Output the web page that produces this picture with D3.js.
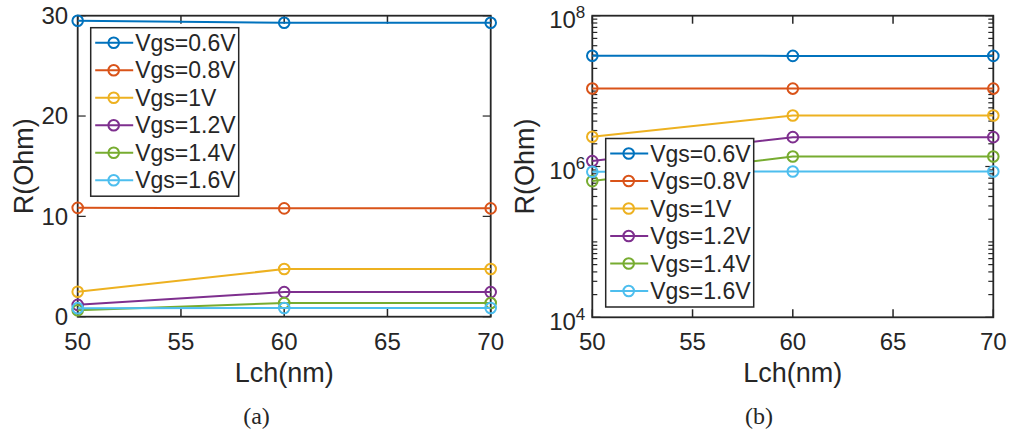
<!DOCTYPE html>
<html>
<head>
<meta charset="utf-8">
<script src="https://cdn.jsdelivr.net/npm/d3@7"></script>
<style>
  body { margin: 0; background: #fff; }
  text { font-family: "Liberation Sans", Arial, Helvetica, sans-serif; fill: #262626; }
  .caption { font-family: "Liberation Serif", "DejaVu Serif", serif; }
</style>
</head>
<body>
<svg id="fig" width="1010" height="438"></svg>
<script>
// Channel lengths (nm)
const channelLengths = [50, 60, 70];

// Resistance per gate voltage, linear panel units
const vgsLabels = ["Vgs=0.6V", "Vgs=0.8V", "Vgs=1V", "Vgs=1.2V", "Vgs=1.4V", "Vgs=1.6V"];
const rVgs06 = [29.5, 29.3, 29.3];
const rVgs08 = [10.85, 10.8, 10.8];
const rVgs10 = [2.48, 4.75, 4.75];
const rVgs12 = [1.18, 2.45, 2.45];
const rVgs14 = [0.64, 1.36, 1.36];
const rVgs16 = [0.85, 0.86, 0.86];
// The log panel shows the same resistances scaled by this factor
const logFactor = 1e6;

const seriesColors = ["#0072BD", "#D95319", "#EDB120", "#7E2F8E", "#77AC30", "#4DBEEE"];

const xTickValues = [50, 55, 60, 65, 70];
const yTicksLinear = [0, 10, 20, 30];
const yTicksLog = [1e4, 1e6, 1e8];

const series = [rVgs06, rVgs08, rVgs10, rVgs12, rVgs14, rVgs16].map((vals, i) => ({
  label: vgsLabels[i], color: seriesColors[i], values: vals
}));

const svg = d3.select("#fig");
const ink = "#262626";

function drawPanel(opts) {
  const { x0, x1, y0, y1, log, caption, captionX, yLabelX, legendX, legendY } = opts;
  const g = svg.append("g");
  const x = d3.scaleLinear().domain([50, 70]).range([x0, x1]);
  const y = log
    ? d3.scaleLog().domain([1e4, 1e8]).range([y1, y0])
    : d3.scaleLinear().domain([0, 30]).range([y1, y0]);
  const k = log ? logFactor : 1;
  const tickLen = 8, minorLen = 5;

  // x ticks, inside on bottom and top
  xTickValues.forEach(v => {
    g.append("line").attr("x1", x(v)).attr("x2", x(v)).attr("y1", y1).attr("y2", y1 - tickLen)
      .attr("stroke", ink).attr("stroke-width", 1.5);
    g.append("line").attr("x1", x(v)).attr("x2", x(v)).attr("y1", y0).attr("y2", y0 + tickLen)
      .attr("stroke", ink).attr("stroke-width", 1.5);
    g.append("text").attr("x", x(v)).attr("y", y1 + 33).attr("text-anchor", "middle")
      .attr("font-size", 24).text(v);
  });

  // y ticks, inside on left and right
  const yt = log ? yTicksLog : yTicksLinear;
  const drawYTick = (v, len) => {
    g.append("line").attr("x1", x0).attr("x2", x0 + len).attr("y1", y(v)).attr("y2", y(v))
      .attr("stroke", ink).attr("stroke-width", 1.2);
    g.append("line").attr("x1", x1).attr("x2", x1 - len).attr("y1", y(v)).attr("y2", y(v))
      .attr("stroke", ink).attr("stroke-width", 1.2);
  };
  yt.forEach(v => drawYTick(v, tickLen));
  if (log) {
    const minors = [];
    for (let e = 4; e < 8; e++) for (let m = 1; m <= 9; m++) {
      const v = m * Math.pow(10, e);
      if (!yTicksLog.includes(v)) minors.push(v);
    }
    minors.forEach(v => drawYTick(v, minorLen));
    yt.forEach(v => {
      const t = g.append("text").attr("x", x0 - 7).attr("y", y(v) + 12.6)
        .attr("text-anchor", "end").attr("font-size", 24);
      t.append("tspan").text("10");
      t.append("tspan").attr("font-size", 17).attr("dy", -10).text(Math.round(Math.log10(v)));
    });
  } else {
    yt.forEach(v => {
      g.append("text").attr("x", x0 - 9.5).attr("y", y(v)).attr("dy", "0.35em")
        .attr("text-anchor", "end").attr("font-size", 24).text(v);
    });
  }

  // frame
  g.append("rect").attr("x", x0).attr("y", y0).attr("width", x1 - x0).attr("height", y1 - y0)
    .attr("fill", "none").attr("stroke", ink).attr("stroke-width", 1.8);

  // series lines and markers
  const line = d3.line().x((d, i) => x(channelLengths[i])).y(d => y(d * k));
  series.forEach(s => {
    g.append("path").attr("d", line(s.values)).attr("fill", "none")
      .attr("stroke", s.color).attr("stroke-width", 2);
    s.values.forEach((d, i) => {
      g.append("circle").attr("cx", x(channelLengths[i])).attr("cy", y(d * k)).attr("r", 5.3)
        .attr("fill", "none").attr("stroke", s.color).attr("stroke-width", 2);
    });
  });

  // legend
  const rowH = 27.5, lw = 148, lh = 168.5;
  const lg = g.append("g").attr("transform", `translate(${legendX},${legendY})`);
  lg.append("rect").attr("width", lw).attr("height", lh).attr("fill", "#fff")
    .attr("stroke", ink).attr("stroke-width", 1.5);
  series.forEach((s, i) => {
    const cy = 15 + i * rowH;
    lg.append("line").attr("x1", 4.5).attr("x2", 42.5).attr("y1", cy).attr("y2", cy)
      .attr("stroke", s.color).attr("stroke-width", 2);
    lg.append("circle").attr("cx", 23).attr("cy", cy).attr("r", 5.3)
      .attr("fill", "none").attr("stroke", s.color).attr("stroke-width", 2);
    lg.append("text").attr("x", 44.5).attr("y", cy).attr("dy", "0.36em")
      .attr("font-size", 23).text(s.label);
  });

  // axis labels
  g.append("text").attr("x", (x0 + x1) / 2).attr("y", y1 + 65).attr("text-anchor", "middle")
    .attr("font-size", 27).text("Lch(nm)");
  g.append("text").attr("transform", `translate(${yLabelX},${(y0 + y1) / 2}) rotate(-90)`)
    .attr("text-anchor", "middle").attr("font-size", 27).text("R(Ohm)");

  // subfigure caption
  svg.append("text").attr("class", "caption").attr("x", captionX).attr("y", 424)
    .attr("text-anchor", "middle").attr("font-size", 24).text(caption);
}

drawPanel({ x0: 77.7, x1: 490.7, y0: 15.7, y1: 316.7, log: false, caption: "(a)",
  captionX: 256.5, yLabelX: 33, legendX: 90.7, legendY: 27.7 });
drawPanel({ x0: 592.3, x1: 993.3, y0: 15.7, y1: 317.3, log: true, caption: "(b)",
  captionX: 759, yLabelX: 534, legendX: 605.7, legendY: 138.5 });
</script>
</body>
</html>
